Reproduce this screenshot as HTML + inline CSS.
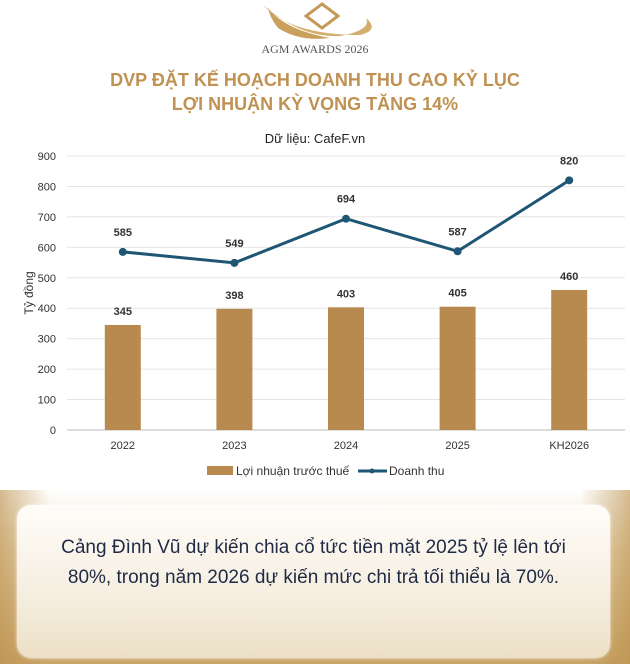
<!DOCTYPE html>
<html><head><meta charset="utf-8"><style>
body{margin:0;width:630px;height:664px;overflow:hidden;background:#fff;font-family:"Liberation Sans",sans-serif;position:relative}
.abs{position:absolute}
</style></head><body>
<div class="abs" style="left:0;top:490px;width:630px;height:174px;background:linear-gradient(180deg,#fff 0%,#eadcbc 35%,#c9a66a 100%)"></div>
<div class="abs" style="left:0;top:490px;width:630px;height:174px;background:linear-gradient(90deg,rgba(185,140,70,.6) 0%,rgba(255,255,255,0) 8%,rgba(255,255,255,0) 92%,rgba(185,140,70,.6) 100%)"></div>
<div class="abs" style="left:17px;top:505px;width:593px;height:153px;border-radius:14px;background:linear-gradient(180deg,#fffdf9 0%,#f6efe2 55%,#ece0c6 100%);box-shadow:0 0 3px rgba(255,255,255,.9)"></div>
<div class="abs" style="left:17px;top:533px;width:593px;text-align:center;font-size:19px;line-height:30px;color:#1f2a44;font-family:'Liberation Sans','DejaVu Sans',sans-serif">Cảng Đình Vũ dự kiến chia cổ tức tiền mặt 2025 tỷ lệ lên tới<br>80%, trong năm 2026 dự kiến mức chi trả tối thiểu là 70%.</div>

<svg class="abs" style="left:0;top:0" width="630" height="500">
<g>
<path d="M268 8 Q285 30 330 38 Q300 42 278 28 Q270 18 268 8Z" fill="#c9a05c"/>
<path d="M262 4 Q290 35 360 35 Q380 30 366 18 Q372 30 340 36 Q300 38 262 4Z" fill="#d4ae6c"/>
<path d="M322 4 L338 16 L322 28 L306 16Z" fill="none" stroke="#c49a58" stroke-width="3"/>
<text x="315" y="53" text-anchor="middle" font-family="Liberation Serif,serif" font-size="12" fill="#555">AGM AWARDS 2026</text>
</g>
<text x="315" y="86" text-anchor="middle" font-size="18" font-weight="bold" fill="#bf9152">DVP ĐẶT KẾ HOẠCH DOANH THU CAO KỶ LỤC</text>
<text x="315" y="110" text-anchor="middle" font-size="18" font-weight="bold" fill="#bf9152">LỢI NHUẬN KỲ VỌNG TĂNG 14%</text>
<text x="315" y="143" text-anchor="middle" font-size="13" fill="#222">Dữ liệu: CafeF.vn</text>
<text transform="translate(33,293) rotate(-90)" text-anchor="middle" font-size="12" fill="#333">Tỷ đồng</text>
<g id="plot"></g>
<g>
<rect x="207" y="466" width="26" height="9" fill="#b88a50"/>
<text x="236" y="475" font-size="12" fill="#333">Lợi nhuận trước thuế</text>
<line x1="358" y1="471" x2="387" y2="471" stroke="#1f5673" stroke-width="3"/>
<circle cx="372" cy="471" r="2.5" fill="#1f5673"/>
<text x="389" y="475" font-size="12" fill="#333">Doanh thu</text>
</g>
</svg>
<script>
const categories=["2022","2023","2024","2025","KH2026"];
const profit=[345,398,403,405,460];
const revenue=[585,549,694,587,820];
const yTicks=[0,100,200,300,400,500,600,700,800,900];
const NS="http://www.w3.org/2000/svg";
const g=document.getElementById('plot');
const x0=67,x1=625,yBase=430,yTop=156,yMax=900;
const y=v=>yBase-(v/yMax)*(yBase-yTop);
const step=(x1-x0)/categories.length;
const x=i=>x0+step*(i+0.5);
function mk(t,a,txt){const e=document.createElementNS(NS,t);for(const k in a)e.setAttribute(k,a[k]);if(txt!=null)e.textContent=txt;g.appendChild(e);return e;}
yTicks.forEach(v=>{
 const l=mk('line',{x1:x0,x2:x1,y1:y(v),y2:y(v),stroke:v===0?'#bbb':'#e4e4e4','stroke-width':1});
 
 
 const t=mk('text',{x:56,y:y(v)+4,'text-anchor':'end','font-size':11,fill:'#333'},v);
 
 
});
categories.forEach((c,i)=>{
 const b=mk('rect',{x:x(i)-18,y:y(profit[i]),width:36,height:yBase-y(profit[i]),fill:'#b88a50'});
 
 
 const bl=mk('text',{x:x(i),y:y(profit[i])-10,'text-anchor':'middle','font-size':11,'font-weight':'bold',fill:'#333'},profit[i]);
 
 
 const xl=mk('text',{x:x(i),y:449,'text-anchor':'middle','font-size':11,fill:'#333'},c);
 
 
});
const p=mk('polyline',{points:revenue.map((v,i)=>x(i)+','+y(v)).join(' '),fill:'none',stroke:'#1f5673','stroke-width':3});


revenue.forEach((v,i)=>{
 const c=mk('circle',{cx:x(i),cy:y(v),r:4,fill:'#1f5673'});
 
 
 const t=mk('text',{x:x(i),y:y(v)-16,'text-anchor':'middle','font-size':11,'font-weight':'bold',fill:'#333'},v);
 
 
});
</script>
</body></html>
